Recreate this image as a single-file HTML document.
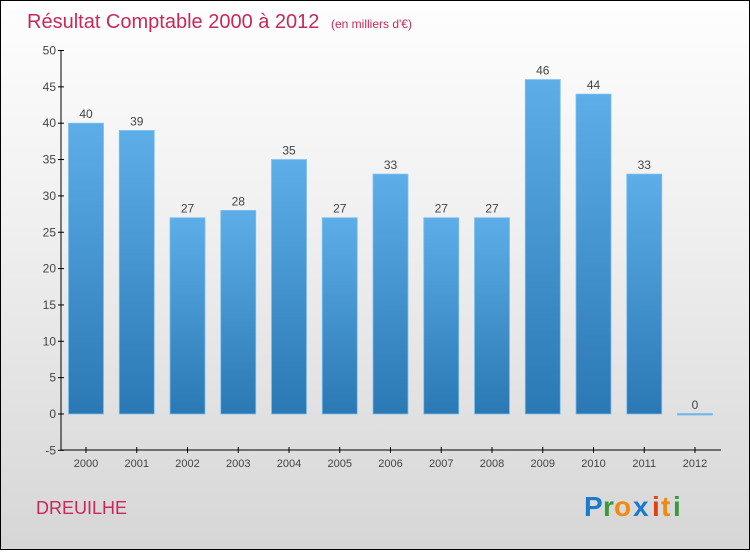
<!DOCTYPE html>
<html><head><meta charset="utf-8"><style>
body{margin:0}
#c{width:748px;height:548px;border:1px solid #000;background:linear-gradient(#fefefe,#f0f0f0 40%,#d6d6d6);position:relative;font-family:"Liberation Sans",sans-serif}
</style></head><body>
<div id="c">
<svg width="748" height="548">
<defs><linearGradient id="g" x1="0" y1="0" x2="0" y2="1"><stop offset="0" stop-color="#5daee8"/><stop offset="1" stop-color="#2a78b4"/></linearGradient></defs>
<text x="26" y="27" font-size="20" fill="#c8285a">Résultat Comptable 2000 à 2012 <tspan font-size="12" dx="6">(en milliers d'€)</tspan></text>
<g id="ax"></g><g id="bars"></g>
<text x="35" y="513" font-size="18" fill="#c8285a">DREUILHE</text>
<g font-size="28" font-weight="bold"><text x="583" y="515" fill="#1a7ad0">P</text><text x="602" y="515" fill="#3a9a3a">r</text><text x="613" y="515" fill="#f08a10">o</text><text x="632" y="515" fill="#1a7ad0">x</text><text x="651" y="515" fill="#e04010">i</text><text x="660" y="515" fill="#f08a10">t</text><text x="672" y="515" fill="#3a9a3a">i</text></g>
</svg></div>
<script>
const years=["2000","2001","2002","2003","2004","2005","2006","2007","2008","2009","2010","2011","2012"];
const values=[40,39,27,28,35,27,33,27,27,46,44,33,0];
const yTicks=[-5,0,5,10,15,20,25,30,35,40,45,50];
const NS="http://www.w3.org/2000/svg";
const y=v=>413-v*7.27;
const x=i=>85+i*50.75;
function mk(t,a,p){const e=document.createElementNS(NS,t);for(const k in a)e.setAttribute(k,a[k]);p.appendChild(e);return e;}
const ax=document.getElementById('ax'),bars=document.getElementById('bars');
const yl=mk('line',{x1:60,x2:60,y1:49,y2:449,stroke:'#000'},ax);


const xl=mk('line',{x1:60,x2:720,y1:449,y2:449,stroke:'#000'},ax);


yTicks.forEach(v=>{mk('line',{x1:57,x2:63,y1:y(v),y2:y(v),stroke:'#000'},ax);
const t=mk('text',{x:55,y:y(v)+4,'text-anchor':'end','font-size':12,fill:'#444'},ax);t.textContent=v;

});
years.forEach((yr,i)=>{mk('line',{x1:x(i),x2:x(i),y1:446,y2:452,stroke:'#000'},ax);
const t=mk('text',{x:x(i),y:466,'text-anchor':'middle','font-size':11,fill:'#444'},ax);t.textContent=yr;


const v=values[i],top=y(Math.max(v,0)),h=Math.max(Math.abs(y(v)-y(0)),1.5);
const r=mk('rect',{x:x(i)-17.5,y:v===0?y(0)-0.5:top,width:35,height:h,fill:v===0?'#6aaee0':'url(#g)',stroke:'#7cc0ee','stroke-width':0.8},bars);


const l=mk('text',{x:x(i),y:top-5,'text-anchor':'middle','font-size':12,fill:'#444'},bars);l.textContent=v;

});
</script>
</body></html>
